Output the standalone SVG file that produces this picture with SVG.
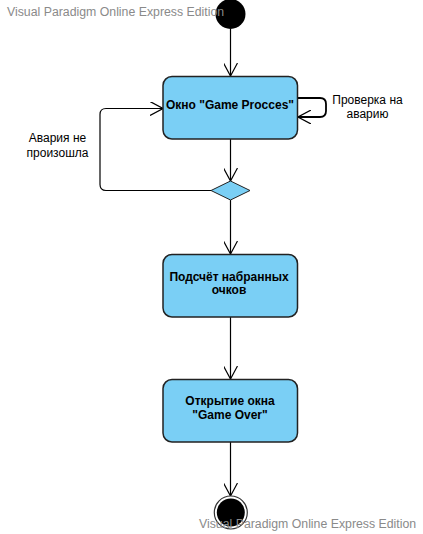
<svg xmlns="http://www.w3.org/2000/svg" width="423" height="534" viewBox="0 0 423 534">
<style>
.act{fill:#7ACFF5;stroke:#222;stroke-width:1.5}
.bt{font-family:"Liberation Sans",Arial,sans-serif;font-size:12px;font-weight:bold;fill:#000;text-anchor:middle}
.lt{font-family:"Liberation Sans",Arial,sans-serif;font-size:12px;fill:#000;text-anchor:middle}
.wm{font-family:"Liberation Sans",Arial,sans-serif;font-size:12.3px;fill:#8a8a8a}
.cn{fill:none;stroke:#000;stroke-width:1.2}
</style>
<defs>
<marker id="ah" viewBox="0 0 14 14" refX="13" refY="7" markerWidth="14" markerHeight="14" markerUnits="userSpaceOnUse" orient="auto">
<path d="M0,0 L13,7 L0,14" fill="none" stroke="#000" stroke-width="1.2"/>
</marker>
</defs>
<rect width="423" height="534" fill="#fff"/>
<g id="connectors">
<line class="cn" x1="230.5" y1="29" x2="230.5" y2="76" marker-end="url(#ah)"/>
<path class="cn" d="M297,98 H320 Q326,98 326,104 V111 Q326,117 320,117 H298" marker-end="url(#ah)" style="stroke-width:1.8"/>
<line class="cn" x1="230.5" y1="139" x2="230.5" y2="181" marker-end="url(#ah)"/>
<path class="cn" d="M211,190.5 H106 Q100,190.5 100,184.5 V114.5 Q100,108.5 106,108.5 H163" marker-end="url(#ah)"/>
<line class="cn" x1="230.5" y1="200" x2="230.5" y2="254" marker-end="url(#ah)"/>
<line class="cn" x1="230.5" y1="317" x2="230.5" y2="379" marker-end="url(#ah)"/>
<line class="cn" x1="230.5" y1="442" x2="230.5" y2="496" marker-end="url(#ah)"/>
<text class="lt" x="367.5" y="104">Проверка на</text>
<text class="lt" x="367.5" y="118">аварию</text>
<text class="lt" x="57.5" y="142">Авария не</text>
<text class="lt" x="57.5" y="157">произошла</text>
</g>
<g id="start">
<circle cx="230.5" cy="14" r="15" fill="#000"/>
</g>
<g id="game_procces">
<rect class="act" x="163" y="76.5" width="134.5" height="62.5" rx="9"/>
<text class="bt" x="230" y="109">Окно "Game Procces"</text>
</g>
<g id="decision">
<polygon points="211,190.5 230.5,181 250,190.5 230.5,200" fill="#7ACFF5" stroke="#222" stroke-width="1"/>
</g>
<g id="score">
<rect class="act" x="163" y="254.5" width="134.5" height="62.5" rx="9"/>
<text class="bt" x="229" y="281">Подсчёт набранных</text>
<text class="bt" x="229" y="294">очков</text>
</g>
<g id="game_over">
<rect class="act" x="163" y="379.5" width="134.5" height="62.5" rx="9"/>
<text class="bt" x="230" y="405">Открытие окна</text>
<text class="bt" x="230" y="419">"Game Over"</text>
</g>
<g id="end">
<circle cx="230.8" cy="512.5" r="16.5" fill="#fff" stroke="#333" stroke-width="1.2"/>
<circle cx="230.8" cy="512.5" r="14" fill="#000"/>
</g>
<text class="wm" x="7" y="16">Visual Paradigm Online Express Edition</text>
<text class="wm" x="199" y="528">Visual Paradigm Online Express Edition</text>
</svg>
